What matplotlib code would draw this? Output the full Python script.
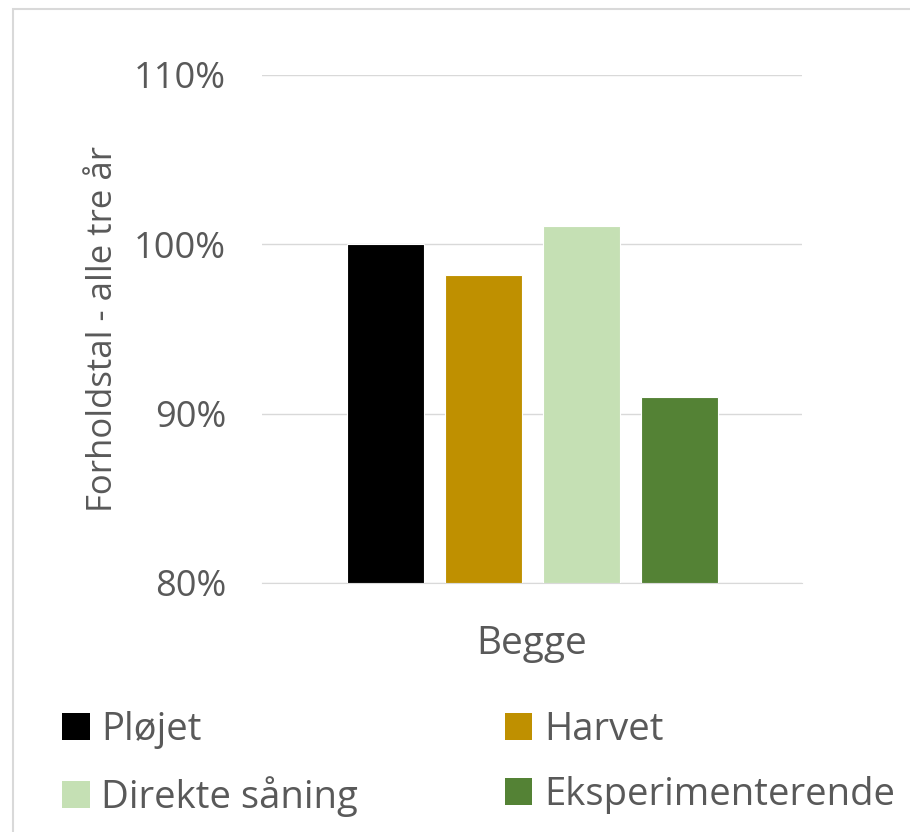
import matplotlib.pyplot as plt
from matplotlib.patches import Rectangle, Patch

# data
series = ['Pløjet', 'Harvet', 'Direkte såning', 'Eksperimenterende']
values = [1.000, 0.982, 1.011, 0.910]
colors = ['#000000', '#BF9000', '#C5E0B4', '#548235']
category = 'Begge'
yticks = [0.8, 0.9, 1.0, 1.1]
ytick_labels = ['80%', '90%', '100%', '110%']

plt.rcParams['font.family'] = ['Open Sans', 'DejaVu Sans']
text_color = '#595959'

W, H = 910, 832
fig = plt.figure(figsize=(W / 100, H / 100), dpi=100)
ax = fig.add_axes([262 / W, 1 - 583 / H, (802 - 262) / W, (583 - 75) / H])

# outer chart border like Excel
fig.patches.append(Rectangle((13 / W, -0.1), 1.2, 1 - 9 / H + 0.1, transform=fig.transFigure,
                             fill=False, edgecolor='#D9D9D9', linewidth=1.5))

spacing = 98 / 540
width = 77 / 540
handles = []
for i, (name, v, c) in enumerate(zip(series, values, colors)):
    x = (i - 1.5) * spacing
    ax.bar(x, v - 0.8, bottom=0.8, width=width, color=c, edgecolor='white', linewidth=0.8, zorder=3)
    handles.append(Patch(facecolor=c, label=name))

ax.set_xlim(-0.5, 0.5)
ax.set_ylim(0.8, 1.1)
ax.set_yticks(yticks)
ax.set_yticklabels(ytick_labels, fontsize=26, color=text_color)
ax.set_xticks([])
ax.grid(axis='y', color='#D9D9D9', linewidth=1, zorder=0)
for s in ['top', 'right', 'left']:
    ax.spines[s].set_visible(False)
ax.spines['bottom'].set_color('#D9D9D9')
ax.tick_params(axis='y', length=0, pad=26)

ax.set_ylabel('Forholdstal - alle tre år', fontsize=25, color=text_color, labelpad=10)
ax.set_xlabel(category, fontsize=28, color=text_color, labelpad=30)

order = [0, 2, 1, 3]
leg = fig.legend([handles[i] for i in order], [series[i] for i in order], ncol=2,
                 loc='upper left', bbox_to_anchor=(62 / W, 1 - 711 / H), frameon=False,
                 fontsize=27.5, handlelength=0.72, handleheight=0.72, handletextpad=0.3,
                 columnspacing=3.85, labelspacing=0.7, borderaxespad=0, borderpad=0)
for t in leg.get_texts():
    t.set_color(text_color)

fig.savefig('out.png', dpi=100)
